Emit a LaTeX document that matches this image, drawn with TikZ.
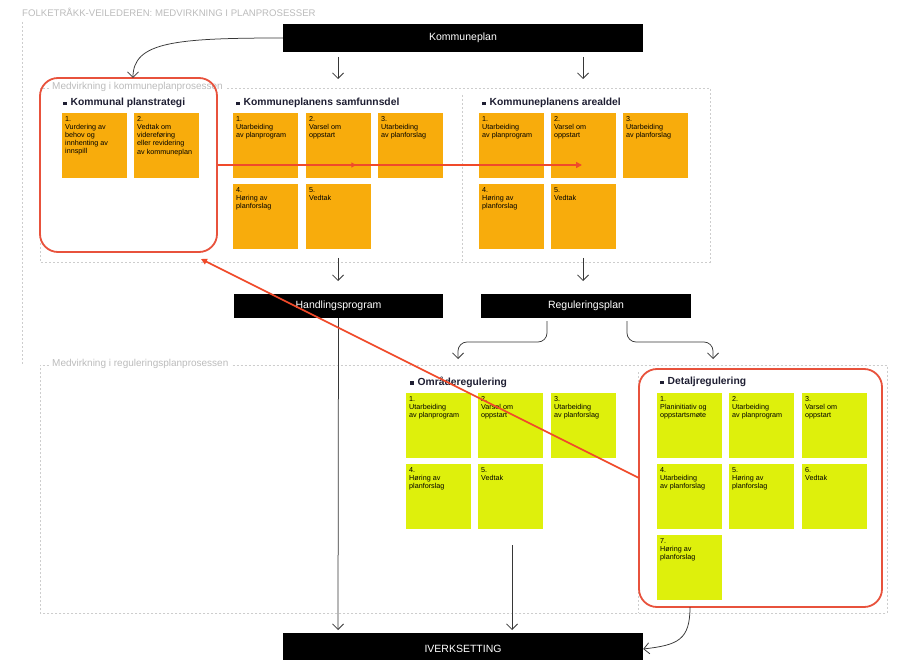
\documentclass[tikz,border=0pt]{standalone}
\usepackage{fontspec}
\setmainfont{Liberation Sans}
\usetikzlibrary{arrows.meta,decorations.markings}
\definecolor{orng}{RGB}{248,172,12}
\definecolor{lime}{RGB}{222,240,12}
\definecolor{framered}{RGB}{232,82,60}
\definecolor{flowred}{RGB}{240,74,42}
\definecolor{dashgrey}{RGB}{205,205,205}
\definecolor{labelgrey}{RGB}{188,188,188}
\definecolor{hdrink}{RGB}{30,30,50}
\definecolor{arrowgrey}{RGB}{55,55,55}

\tikzset{
  bar/.style={fill=black, text=white, inner sep=0pt, font=\fontsize{10.5}{11}\selectfont},
  cardbox/.style={anchor=north west, inner sep=3pt, align=left,
    font=\fontsize{7.2}{8.2}\selectfont, text=black},
  hdr/.style={anchor=west, inner sep=0pt, text=hdrink,
    font=\fontsize{10.3}{11}\bfseries\selectfont},
  zonelabel/.style={anchor=west, inner sep=0pt, text=labelgrey,
    font=\fontsize{10}{11}\selectfont},
  zoneline/.style={draw=dashgrey, line width=0.6pt, dash pattern=on 2pt off 2pt},
  flow/.style={draw=arrowgrey, line width=0.75pt, -{Straight Barb[length=5.5pt,width=11pt]}},
  redframe/.style={draw=framered, line width=1.8pt, rounded corners=18pt, inner sep=0pt},
  redflow/.style={draw=flowred, line width=1.6pt, -{Triangle[length=6pt,width=6pt]}},
}
\newcommand\card[5]{\node[cardbox, fill=#4] (#1) at (#2,#3) {\parbox[t][59pt][t]{59pt}{#5}};}
\newcommand\hdrmark{\rule[0.5pt]{3.5pt}{3.5pt}\hspace{4pt}}

\begin{document}
\begin{tikzpicture}[x=1pt,y=-1pt]
\useasboundingbox (0,0) rectangle (899,660);
\fill[white] (0,0) rectangle (899,660);

% page title
\node[anchor=west, inner sep=0pt, text=labelgrey, font=\fontsize{9.6}{10}\selectfont] (title) at (22,12)
  {FOLKETRÅKK-VEILEDEREN: MEDVIRKNING I PLANPROSESSER};

% outer margin line
\draw[zoneline] (22,22) -- (22,365);

% zone: kommuneplanprosessen
\node[zonelabel] (zoneA) at (52,87) {Medvirkning i kommuneplanprosessen};
\draw[zoneline] (zoneA.east) ++(4,1) -- (710,88) -- (710,262) -- (40,262) -- (40,88) -- (50,88);
\draw[zoneline] (462,95) -- (462,262);

% zone: reguleringsplanprosessen
\node[zonelabel] (zoneB) at (52,364) {Medvirkning i reguleringsplanprosessen};
\draw[zoneline] (zoneB.east) ++(4,1) -- (887,365) -- (887,613) -- (40,613) -- (40,365) -- (50,365);
\draw[zoneline] (638,372) -- (638,613);

% black bars
\node[bar, minimum width=360pt, minimum height=28pt] (kp) at (463,38) {Kommuneplan};
\node[bar, minimum width=209pt, minimum height=24pt] (hp) at (338.5,306) {Handlingsprogram};
\node[bar, minimum width=210pt, minimum height=24pt] (rp) at (586,306) {Reguleringsplan};
\node[bar, minimum width=360pt, minimum height=32pt] (iv) at (463,649) {IVERKSETTING};

% Kommunal planstrategi
\node[hdr] (hstrat) at (63,103) {\hdrmark Kommunal planstrategi};
\card{ps1}{62}{113}{orng}{1.\\Vurdering av\\behov og\\innhenting av\\innspill}
\card{ps2}{134}{113}{orng}{2.\\Vedtak om\\videreføring\\eller revidering\\av kommuneplan}

% Kommuneplanens samfunnsdel
\node[hdr] (hsam) at (236,103) {\hdrmark Kommuneplanens samfunnsdel};
\card{sd1}{233}{113}{orng}{1.\\Utarbeiding\\av planprogram}
\card{sd2}{306}{113}{orng}{2.\\Varsel om\\oppstart}
\card{sd3}{378}{113}{orng}{3.\\Utarbeiding\\av planforslag}
\card{sd4}{233}{184}{orng}{4.\\Høring av\\planforslag}
\card{sd5}{306}{184}{orng}{5.\\Vedtak}

% Kommuneplanens arealdel
\node[hdr] (hareal) at (482,103) {\hdrmark Kommuneplanens arealdel};
\card{ad1}{479}{113}{orng}{1.\\Utarbeiding\\av planprogram}
\card{ad2}{551}{113}{orng}{2.\\Varsel om\\oppstart}
\card{ad3}{623}{113}{orng}{3.\\Utarbeiding\\av planforslag}
\card{ad4}{479}{184}{orng}{4.\\Høring av\\planforslag}
\card{ad5}{551}{184}{orng}{5.\\Vedtak}

% Områderegulering
\node[hdr] (homr) at (410,382) {\hdrmark Områderegulering};
\card{or1}{406}{393}{lime}{1.\\Utarbeiding\\av planprogram}
\card{or2}{478}{393}{lime}{2.\\Varsel om\\oppstart}
\card{or3}{551}{393}{lime}{3.\\Utarbeiding\\av planforslag}
\card{or4}{406}{464}{lime}{4.\\Høring av\\planforslag}
\card{or5}{478}{464}{lime}{5.\\Vedtak}

% Detaljregulering
\node[hdr] (hdet) at (660,382) {\hdrmark Detaljregulering};
\card{dr1}{657}{393}{lime}{1.\\Planinitiativ og\\oppstartsmøte}
\card{dr2}{729}{393}{lime}{2.\\Utarbeiding\\av planprogram}
\card{dr3}{802}{393}{lime}{3.\\Varsel om\\oppstart}
\card{dr4}{657}{464}{lime}{4.\\Utarbeiding\\av planforslag}
\card{dr5}{729}{464}{lime}{5.\\Høring av\\planforslag}
\card{dr6}{802}{464}{lime}{6.\\Vedtak}
\card{dr7}{657}{535}{lime}{7.\\Høring av\\planforslag}

% highlighted frames
\node[redframe, minimum width=177pt, minimum height=174pt] (stratframe) at (128.5,165) {};
\node[redframe, minimum width=243pt, minimum height=238pt] (detframe) at (760.5,488) {};

% grey flow arrows
\coordinate (kpdrop) at (133,78);
\draw[flow] (kp.west) .. controls (175,38) and (133,42) .. (kpdrop);
\coordinate (kpL) at (338,57);
\coordinate (kpR) at (583,57);
\coordinate (samtop) at (338,79);
\coordinate (arealtop) at (583,79);
\draw[flow] (kpL) -- (samtop);
\draw[flow] (kpR) -- (arealtop);
\coordinate (samlow) at (338,258);
\coordinate (areallow) at (583,258);
\coordinate (hpin) at (338,281);
\coordinate (rpin) at (583,281);
\draw[flow] (samlow) -- (hpin);
\draw[flow] (areallow) -- (rpin);
\coordinate (rpL) at (547,321);
\coordinate (rpR) at (627,321);
\coordinate (omrtop) at (458,359);
\coordinate (dettop) at (713,359);
\draw[flow, rounded corners=9pt] (rpL) -- (547,342) -- (458,342) -- (omrtop);
\draw[flow, rounded corners=9pt] (rpR) -- (627,342) -- (713,342) -- (dettop);
\coordinate (hpdown) at (338,630);
\draw[flow] (hp.south) -- (hpdown);
\coordinate (omrlow) at (512,545);
\coordinate (omrdown) at (512,630);
\draw[flow] (omrlow) -- (omrdown);
\coordinate (detlow) at (690,607);
\draw[flow] (detlow) .. controls (690,640) and (678,645) .. (iv.east);

% red feedback arrows
\coordinate (arealmark) at (582,165);
\draw[redflow, postaction={decorate}, decoration={markings,
  mark=at position 0.38 with {\arrow{Triangle[length=5pt,width=5pt]}}}]
  (stratframe.east) -- (arealmark);
\coordinate (diagstart) at (639,478);
\coordinate (diagend) at (201,259);
\draw[redflow] (diagstart) -- (diagend);
\end{tikzpicture}
\end{document}
